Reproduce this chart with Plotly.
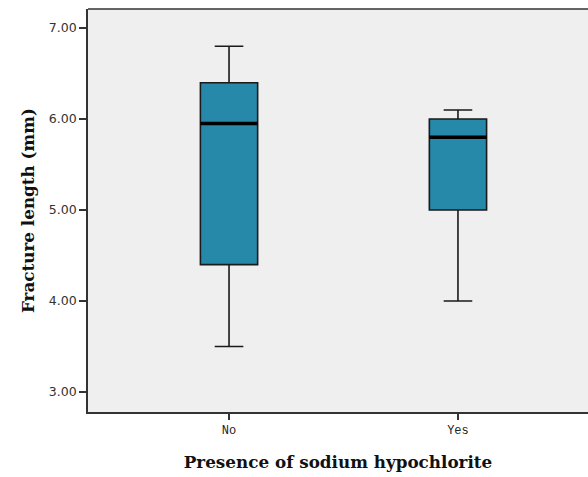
import plotly.graph_objects as go

categories = ["No", "Yes"]
lower_whisker = [3.5, 4.0]
q1 = [4.4, 5.0]
median = [5.95, 5.8]
q3 = [6.4, 6.0]
upper_whisker = [6.8, 6.1]
y_ticks = [3.0, 4.0, 5.0, 6.0, 7.0]
y_tick_labels = ["3.00", "4.00", "5.00", "6.00", "7.00"]

positions = list(range(len(categories)))
box_width = 0.25
fill = "#2689a9"

fig = go.Figure()
fig.add_trace(go.Box(
    x=positions,
    q1=q1, median=median, q3=q3,
    lowerfence=lower_whisker, upperfence=upper_whisker,
    width=box_width, whiskerwidth=0.5,
    fillcolor=fill,
    line=dict(color="#1a1a1a", width=1.6),
    boxpoints=False, hoverinfo="skip", showlegend=False,
))

for p, m in zip(positions, median):
    fig.add_shape(type="line", xref="x", yref="y",
                  x0=p - box_width / 2, x1=p + box_width / 2, y0=m, y1=m,
                  line=dict(color="black", width=3.5))

fig.update_layout(
    width=588, height=477,
    margin=dict(l=88, r=0, t=9, b=65),
    paper_bgcolor="white",
    plot_bgcolor="#efefef",
    showlegend=False,
)
fig.update_xaxes(
    range=[-0.616, 1.568],
    tickvals=positions, ticktext=categories,
    ticks="outside", ticklen=6, tickcolor="#333", tickwidth=1.5,
    showgrid=False, zeroline=False,
    showline=True, linecolor="#333", linewidth=1.6, mirror=False,
    tickfont=dict(family="Liberation Mono", size=12, color="#222"),
    title=dict(text="<b>Presence of sodium hypochlorite</b>",
               font=dict(family="DejaVu Serif", size=16.8, color="#111"),
               standoff=19),
)
fig.update_yaxes(
    range=[2.78, 7.21],
    tickvals=y_ticks, ticktext=y_tick_labels,
    ticks="outside", ticklen=7, tickcolor="#333", tickwidth=1.5,
    showgrid=False, zeroline=False,
    showline=True, linecolor="#333", linewidth=1.6,
    tickfont=dict(family="DejaVu Sans", size=12.5, color="#333"),
    title=dict(text="<b>Fracture length (mm)</b>",
               font=dict(family="DejaVu Serif", size=16.8, color="#111"),
               standoff=10),
)
fig.add_shape(type="line", xref="paper", yref="paper", x0=0, x1=1, y0=1, y1=1,
              line=dict(color="#333", width=1.6))

fig.write_html("out.html")
